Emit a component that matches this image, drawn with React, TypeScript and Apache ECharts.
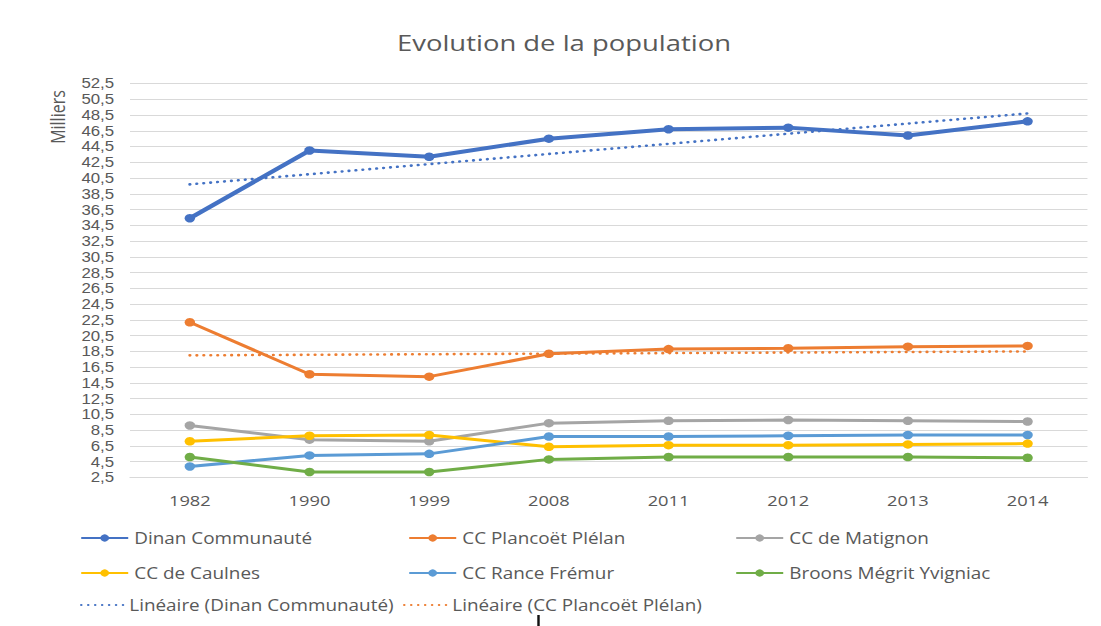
import React, { useEffect, useRef } from "react";
import * as echarts from "echarts";

// ---- data ----
const years = ["1982", "1990", "1999", "2008", "2011", "2012", "2013", "2014"];
const dinan = [35.4, 44.0, 43.2, 45.5, 46.7, 46.9, 45.9, 47.7];
const plancoet = [22.2, 15.6, 15.3, 18.2, 18.8, 18.9, 19.1, 19.2];
const matignon = [9.1, 7.3, 7.1, 9.4, 9.7, 9.8, 9.7, 9.6];
const caulnes = [7.1, 7.8, 7.9, 6.4, 6.6, 6.6, 6.7, 6.8];
const rance = [3.9, 5.3, 5.5, 7.7, 7.7, 7.8, 7.9, 7.9];
const broons = [5.1, 3.2, 3.2, 4.8, 5.1, 5.1, 5.1, 5.0];
// linear trend lines: values read at first and last year
const trendDinan = [39.7, 48.7];
const trendPlancoet = [18.0, 18.5];
const yMin = 2.5;
const yMax = 52.5;
const yStep = 2;

const seriesNames = [
  "Dinan Communauté",
  "CC Plancoët Plélan",
  "CC de Matignon",
  "CC de Caulnes",
  "CC Rance Frémur",
  "Broons Mégrit Yvigniac",
  "Linéaire (Dinan Communauté)",
  "Linéaire (CC Plancoët Plélan)",
];

// ---- layout ----
const S = 1.22; // horizontal stretch of the reference picture
const W = 1101 / S;
const H = 626;
const px = (x: number) => x / S;
const FONT = "'Open Sans', 'Noto Sans', sans-serif";
const TICK_FONT = "'Liberation Sans', Arial, sans-serif";
const TXT = "#595959";

const legendPos = [
  { x: 80, y: 530, w: 47 },
  { x: 408, y: 530, w: 47 },
  { x: 735, y: 530, w: 47 },
  { x: 80, y: 565, w: 47 },
  { x: 408, y: 565, w: 47 },
  { x: 735, y: 565, w: 47 },
  { x: 80, y: 597, w: 42 },
  { x: 403, y: 597, w: 42 },
];

export default function App() {
  const ref = useRef<HTMLDivElement>(null);
  useEffect(() => {
    if (!ref.current) return;
    const chart = echarts.init(ref.current, null, { renderer: "svg" });
    const lineSeries = (name: string, data: number[], color: string, width: number) => ({
      type: "line",
      name,
      data,
      symbol: "circle",
      symbolSize: 8.5,
      lineStyle: { color, width },
      itemStyle: { color },
      z: 3,
    });
    const trendSeries = (name: string, vals: number[], color: string) => ({
      type: "line",
      name,
      data: [
        [years[0], vals[0]],
        [years[years.length - 1], vals[1]],
      ],
      symbol: "none",
      lineStyle: { color, width: 2.6, type: [0.1, 5.6], cap: "round" },
      itemStyle: { color },
      z: 4,
    });
    const legends = seriesNames.map((name, i) => {
      const l: any = {
        data: [name],
        left: px(legendPos[i].x),
        top: legendPos[i].y,
        padding: 0,
        itemWidth: px(legendPos[i].w),
        itemHeight: 9,
        itemGap: 0,
        textStyle: { color: TXT, fontSize: 15.5, fontFamily: FONT },
      };
      if (i >= 6) l.itemStyle = { opacity: 0 };
      return l;
    });
    chart.setOption({
      animation: false,
      backgroundColor: "#ffffff",
      textStyle: { fontFamily: FONT },
      graphic: [
        {
          type: "text",
          x: px(564),
          y: 42.5,
          style: {
            text: "Evolution de la population",
            fontSize: 22.5,
            fontFamily: FONT,
            fill: TXT,
            align: "center",
            verticalAlign: "middle",
          },
        },
        {
          type: "text",
          x: px(57),
          y: 117,
          rotation: Math.PI / 2,
          style: {
            text: "Milliers",
            fontSize: 16,
            fontFamily: FONT,
            fill: TXT,
            align: "center",
            verticalAlign: "middle",
          },
        },
        {
          type: "line",
          shape: { x1: px(538.5), y1: 615, x2: px(538.5), y2: 626 },
          style: { stroke: "#111111", lineWidth: 2 },
        },
      ],
      legend: legends,
      grid: {
        left: px(130),
        right: W - px(1088),
        top: 83.5,
        bottom: H - 477.5,
        containLabel: false,
      },
      xAxis: {
        type: "category",
        data: years,
        boundaryGap: true,
        axisLine: { show: true, lineStyle: { color: "#D9D9D9", width: 1 } },
        axisTick: { show: false },
        axisLabel: { color: TXT, fontSize: 15, fontFamily: FONT, margin: 15 },
        splitLine: { show: false },
      },
      yAxis: {
        type: "value",
        min: yMin,
        max: yMax,
        interval: yStep,
        axisLine: { show: false },
        axisTick: { show: false },
        axisLabel: {
          color: TXT,
          fontSize: 13.8,
          lineHeight: 14,
          fontFamily: TICK_FONT,
          margin: 13,
          formatter: (v: number) => v.toFixed(1).replace(".", ","),
        },
        splitLine: { show: true, lineStyle: { color: "#D9D9D9", width: 1 } },
      },
      series: [
        lineSeries(seriesNames[0], dinan, "#4472C4", 4),
        lineSeries(seriesNames[1], plancoet, "#ED7D31", 3),
        lineSeries(seriesNames[2], matignon, "#A5A5A5", 3),
        lineSeries(seriesNames[3], caulnes, "#FFC000", 3),
        lineSeries(seriesNames[4], rance, "#5B9BD5", 3),
        lineSeries(seriesNames[5], broons, "#70AD47", 3),
        trendSeries(seriesNames[6], trendDinan, "#4472C4"),
        trendSeries(seriesNames[7], trendPlancoet, "#ED7D31"),
      ],
    });
    return () => chart.dispose();
  }, []);
  return (
    <div
      ref={ref}
      style={{
        position: "absolute",
        left: 0,
        top: 0,
        width: W,
        height: H,
        transform: `scaleX(${S})`,
        transformOrigin: "0 0",
      }}
    />
  );
}
